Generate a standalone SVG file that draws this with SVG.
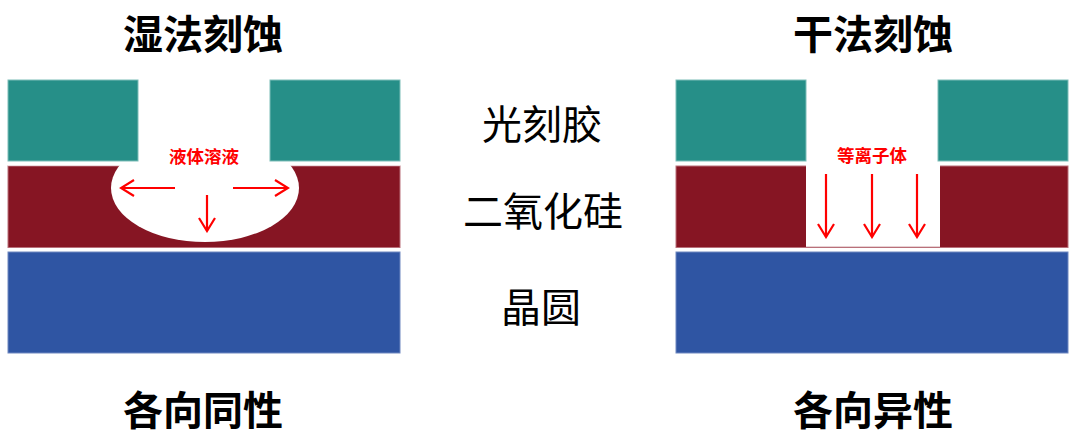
<svg xmlns="http://www.w3.org/2000/svg" width="1080" height="446" viewBox="0 0 1080 446">
<style>
.pr{fill:#268F88;stroke:#7DBDB8;stroke-width:1}
.ox{fill:#861523;stroke:#B9707A;stroke-width:1}
.wf{fill:#2F55A3;stroke:#6F88C0;stroke-width:1}
.title{font-family:"Noto Sans CJK SC","Noto Sans",sans-serif;font-weight:bold;font-size:40px;fill:#000;text-anchor:middle;dominant-baseline:central}
.lab{font-family:"Noto Sans CJK SC","Noto Sans",sans-serif;font-size:40px;fill:#000;text-anchor:middle;dominant-baseline:central}
.red{font-family:"Noto Sans CJK SC","Noto Sans",sans-serif;font-weight:bold;font-size:17.5px;fill:#FF0000;text-anchor:middle;dominant-baseline:central}
.arr{stroke:#FF0000;stroke-width:2.2;fill:none}
</style>
<defs>
<marker id="ah" viewBox="0 0 16 18" refX="14" refY="9" markerWidth="16" markerHeight="18" markerUnits="userSpaceOnUse" orient="auto">
<path d="M1,1 L14,9 L1,17" fill="none" stroke="#FF0000" stroke-width="2.2"/>
</marker>
</defs>
<rect width="1080" height="446" fill="#fff"/>
<g id="wet">
<rect class="ox" x="8" y="166" width="392" height="81.5"/>
<ellipse cx="205" cy="188" rx="94" ry="54" fill="#fff"/>
<rect x="8" y="161.5" width="392" height="4" fill="#fff"/>
<rect class="pr" x="8" y="80" width="130" height="81"/>
<rect class="pr" x="270" y="80" width="130" height="81"/>
<rect class="wf" x="8" y="252" width="392" height="101"/>
<text class="red" x="204" y="155">液体溶液</text>
</g>
<g id="dry">
<rect class="ox" x="676" y="166" width="392" height="81.5"/>
<rect x="806" y="165" width="134" height="81.8" fill="#fff"/>
<rect class="pr" x="676" y="80" width="130" height="81"/>
<rect class="pr" x="938" y="80" width="130" height="81"/>
<rect class="wf" x="676" y="252" width="392" height="101"/>
<text class="red" x="872" y="154">等离子体</text>
</g>
<g id="connectors">
<line class="arr" x1="175" y1="188" x2="121" y2="188" marker-end="url(#ah)"/>
<line class="arr" x1="233" y1="188" x2="288" y2="188" marker-end="url(#ah)"/>
<line class="arr" x1="207" y1="195" x2="207" y2="231" marker-end="url(#ah)"/>
<line class="arr" x1="826" y1="174" x2="826" y2="237" marker-end="url(#ah)"/>
<line class="arr" x1="872" y1="174" x2="872" y2="237" marker-end="url(#ah)"/>
<line class="arr" x1="917" y1="174" x2="917" y2="237" marker-end="url(#ah)"/>
</g>
<g id="titles">
<text class="title" x="203" y="32">湿法刻蚀</text>
<text class="title" x="873" y="32">干法刻蚀</text>
<text class="title" x="203" y="408">各向同性</text>
<text class="title" x="873" y="408">各向异性</text>
</g>
<g id="labels">
<text class="lab" x="542" y="122">光刻胶</text>
<text class="lab" x="543" y="209">二氧化硅</text>
<text class="lab" x="541" y="305">晶圆</text>
</g>
</svg>
